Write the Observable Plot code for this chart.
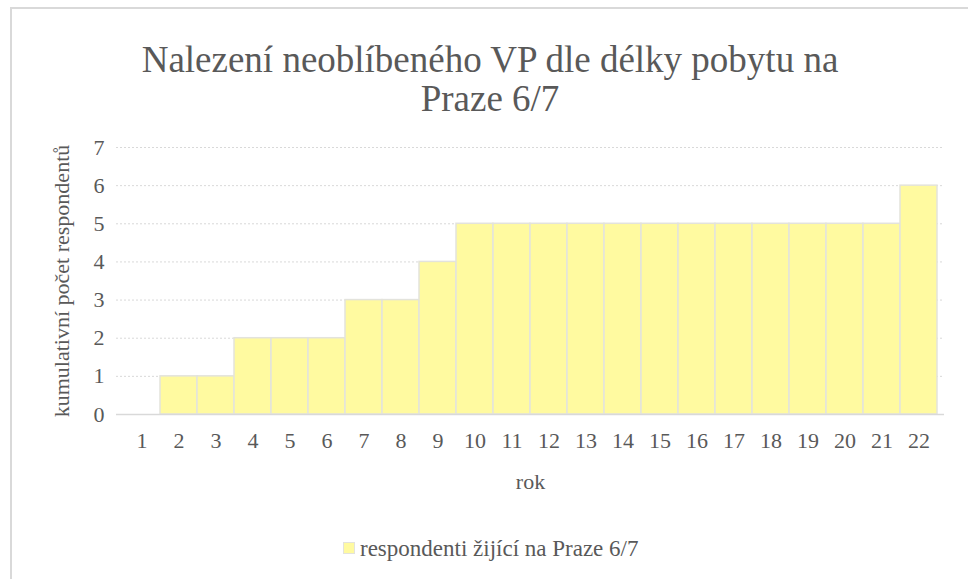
<!DOCTYPE html>
<html>
<head>
<meta charset="utf-8">
<script src="https://cdn.jsdelivr.net/npm/d3@7"></script>
<script src="https://cdn.jsdelivr.net/npm/@observablehq/plot@0.6"></script>
<style>
  html, body { margin: 0; padding: 0; background: #fff; }
  #wrap { position: relative; width: 968px; height: 579px; overflow: hidden; font-family: "Liberation Serif", "Times New Roman", "DejaVu Serif", serif; color: #595959; }
  #frame { position: absolute; left: 10px; top: 7px; width: 1000px; height: 700px; border-left: 2px solid #d9d9d9; border-top: 2px solid #d9d9d9; box-sizing: border-box; }
  #title { position: absolute; left: 0; top: 40px; width: 980px; text-align: center; font-size: 37px; line-height: 39px; }
  #legend-sw { position: absolute; left: 343px; top: 542px; width: 12px; height: 12px; background: #fffaa0; border: 1px solid #e3e3dc; box-sizing: border-box; }
  #legend-tx { position: absolute; left: 360px; top: 537px; font-size: 23px; line-height: 23px; white-space: nowrap; }
  #chart { position: absolute; left: 0; top: 0; }
  #chart svg g[aria-label="x-axis tick label"], #chart svg g[aria-label="y-axis tick label"] { font-size: 22px; }
</style>
</head>
<body>
<div id="wrap">
  <div id="frame"></div>
  <div id="chart"></div>
  <div id="title">Nalezení neoblíbeného VP dle délky pobytu na<br>Praze 6/7</div>
  <div id="legend-sw"></div>
  <div id="legend-tx">respondenti žijící na Praze 6/7</div>
</div>
<script>
const years = ["1","2","3","4","5","6","7","8","9","10","11","12","13","14","15","16","17","18","19","20","21","22"];
const values = [0,1,1,2,2,2,3,3,4,5,5,5,5,5,5,5,5,5,5,5,5,6];
const yTicks = [0,1,2,3,4,5,6,7];
const gridTicks = [1,2,3,4,5,6,7];
const seriesName = "respondenti žijící na Praze 6/7";
const xLabel = "rok";
const yLabel = "kumulativní počet respondentů";

const data = years.map((y, i) => ({year: y, value: values[i]}));
const serif = "'Liberation Serif', 'Times New Roman', 'DejaVu Serif', serif";

const chart = Plot.plot({
  width: 968,
  height: 579,
  marginLeft: 116,
  marginRight: 24,
  marginTop: 147,
  marginBottom: 165,
  style: {fontFamily: serif, fontSize: "22px", color: "#595959", background: "transparent"},
  x: {domain: years, padding: 0},
  y: {domain: [0, 7]},
  marks: [
    Plot.ruleY(gridTicks, {stroke: "#d9d9d9", strokeDasharray: "2,2", strokeWidth: 1}),
    Plot.barY(data, {x: "year", y: "value", fill: "#fffaa0", stroke: "#e3e3dc", strokeWidth: 1.5}),
    Plot.ruleY([0], {stroke: "#d9d9d9", strokeWidth: 1.5}),
    Plot.axisX({tickSize: 0, tickPadding: 18, fontSize: 22, fontFamily: serif, label: null, fill: "#595959"}),
    Plot.axisY({ticks: yTicks, tickSize: 0, tickPadding: 12, fontSize: 22, fontFamily: serif, tickFormat: d3.format("d"), label: null, fill: "#595959"}),
    Plot.text([xLabel], {frameAnchor: "bottom", dy: 74, text: d => d, fontSize: 22, fontFamily: serif, fill: "#595959"}),
    Plot.text([yLabel], {frameAnchor: "left", dx: -55, rotate: -90, textAnchor: "middle", text: d => d, fontSize: 22, fontFamily: serif, fill: "#595959"})
  ]
});
document.getElementById("chart").appendChild(chart);
</script>
</body>
</html>
